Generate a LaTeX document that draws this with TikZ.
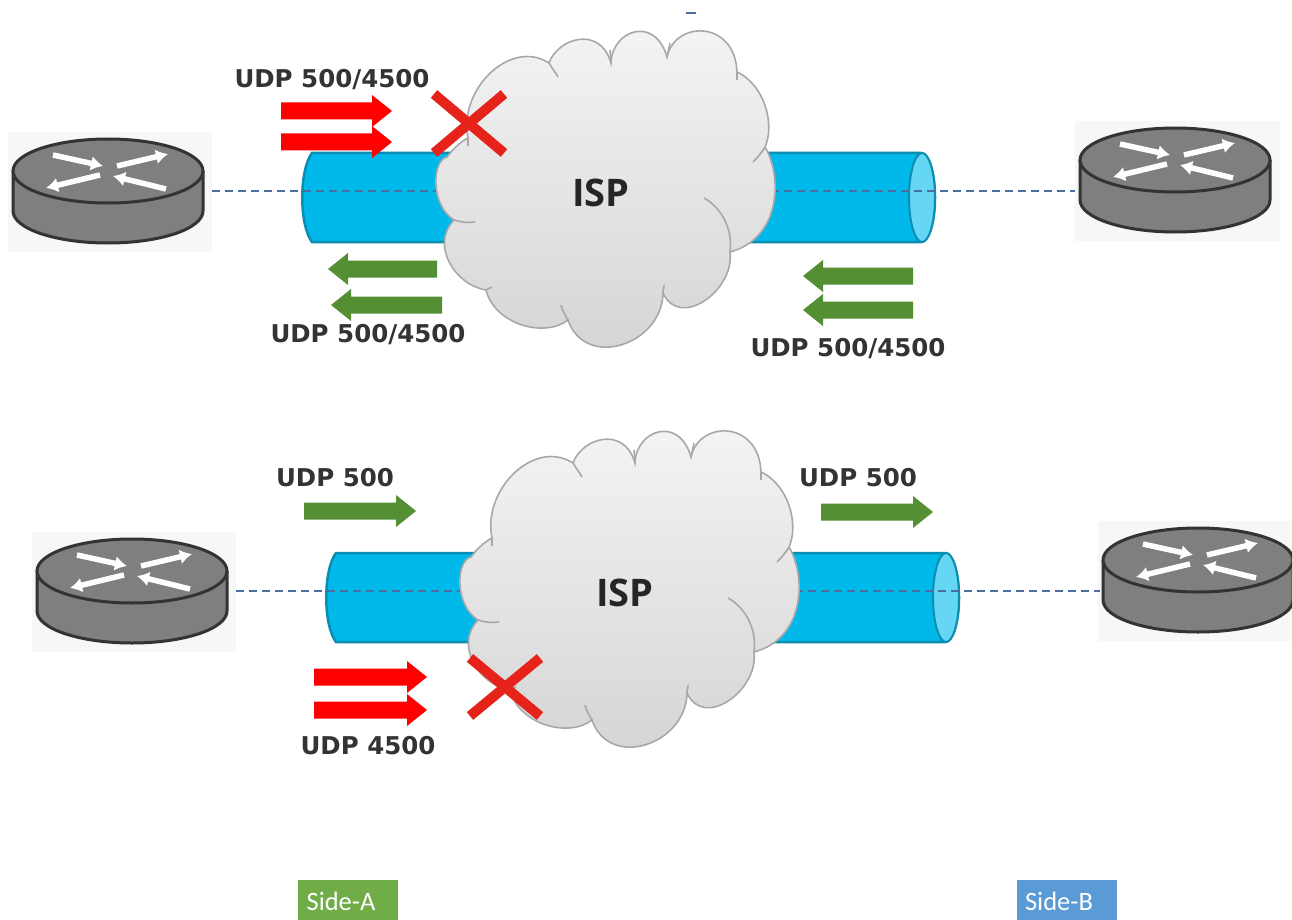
\documentclass[tikz,border=0pt]{standalone}
\usepackage{fontspec}
\setmainfont{Open Sans}
\newfontfamily\sidefont{Carlito}
\newfontfamily\lblfont{DejaVu Sans}
\usetikzlibrary{arrows.meta}
\definecolor{redar}{HTML}{FF0000}
\definecolor{greenar}{HTML}{548F33}
\definecolor{xred}{HTML}{E5231B}
\definecolor{tube}{HTML}{00B9EA}
\definecolor{tubeedge}{HTML}{0A8DB0}
\definecolor{tubeend}{HTML}{66D6F5}
\definecolor{dashc}{HTML}{4A6F9E}
\definecolor{cloudedge}{HTML}{A8A8A8}
\definecolor{routerfill}{HTML}{7F7F7F}
\definecolor{routeredge}{HTML}{333333}
\definecolor{labelc}{HTML}{333333}
\definecolor{sidea}{HTML}{70AD47}
\definecolor{sideb}{HTML}{5B9BD5}
\tikzset{
  x=1pt,y=-1pt,
  lbl/.style={font=\lblfont\fontsize{24.5}{24.5}\selectfont\bfseries,text=labelc,inner sep=0pt},
  isplbl/.style={font=\fontsize{38}{38}\selectfont\bfseries,text=black!85,inner sep=0pt},
  sidebox/.style={minimum width=100pt,minimum height=40pt,inner sep=0pt},
  sidetext/.style={text=white,inner sep=0pt,font=\sidefont\fontsize{26.5}{26.5}\selectfont},
  rarrow/.style={line width=5.5pt,white,-{Latex[length=12pt,width=15pt]}},
  dashlink/.style={line width=2pt,dashc,dash pattern=on 8pt off 5pt},
  cloudline/.style={draw=cloudedge,line width=1.6pt},
  xmark/.style={line width=10pt,xred}
}
\newcommand{\blockarrow}[4]{% tail x, tip x, y, colour
  \pgfmathsetmacro{\bdir}{(#2>#1)?1:-1}
  \fill[#4] (#1,#3-8.5) -- ({#2-\bdir*20},#3-8.5) -- ({#2-\bdir*20},#3-16) -- (#2,#3) -- ({#2-\bdir*20},#3+16) -- ({#2-\bdir*20},#3+8.5) -- (#1,#3+8.5) -- cycle;
}
\newcommand{\routerat}[4]{% x,y,name, right bg offset
  \begin{scope}[shift={(#1,#2)}]
    \fill[black!3] (-100,-39) rectangle (#4,81);
    \draw[routeredge,fill=routerfill,line width=3pt] (-95,0) -- (-95,40) arc[start angle=180,end angle=0,x radius=95,y radius=32] -- (95,0);
    \draw[routeredge,fill=routerfill,line width=3pt] (0,0) ellipse[x radius=95,y radius=32];
    \draw[rarrow] (-55,-16) -- (-5,-5);
    \draw[rarrow] (9,-5) -- (60,-17);
    \draw[rarrow] (-8,4) -- (-62,17);
    \draw[rarrow] (58,18) -- (5,5);
    \coordinate (#3) at (0,20);
  \end{scope}
}
\newcommand{\tubeat}[2]{% shift
  \begin{scope}[shift={(#1,#2)}]
    \draw[tubeedge,fill=tube,line width=2.5pt] (921,153) -- (312,153) .. controls (299,170) and (299,225) .. (312,242) -- (921,242) arc[start angle=90,end angle=-90,x radius=14,y radius=44.5] -- cycle;
    \draw[tubeedge,fill=tubeend,line width=2pt] (922,197.5) ellipse[x radius=13,y radius=44.5];
  \end{scope}
}
\newcommand{\cloudat}[2]{%
  \begin{scope}[shift={(#1,#2)}]
    \path[cloudline,top color=black!4,bottom color=black!17]
      (468,138) .. controls (458,90) and (510,38) .. (549,63)
      .. controls (558,38) and (600,25) .. (611,63)
      .. controls (612,30) and (655,15) .. (667,57)
      .. controls (675,20) and (735,20) .. (737,72)
      .. controls (765,85) and (775,125) .. (765,147)
      .. controls (782,175) and (782,238) .. (730,252)
      .. controls (735,290) and (680,330) .. (663,293)
      .. controls (662,345) and (585,370) .. (568,320)
      .. controls (545,338) and (495,325) .. (486,290)
      .. controls (455,285) and (430,245) .. (454,220)
      .. controls (430,205) and (432,160) .. (447,157)
      .. controls (452,150) and (460,142) .. (468,138) -- cycle;
    \draw[cloudline] (468,138) -- (468,146);
    \draw[cloudline] (549,63) .. controls (552,68) and (555,72) .. (558,77);
    \draw[cloudline] (611,63) -- (610,50);
    \draw[cloudline] (667,57) -- (670,43);
    \draw[cloudline] (737,72) -- (737,80);
    \draw[cloudline] (765,147) .. controls (760,155) and (757,158) .. (753,162);
    \draw[cloudline] (730,252) .. controls (733,230) and (722,208) .. (704,198);
    \draw[cloudline] (663,293) -- (664,285);
    \draw[cloudline] (568,320) .. controls (565,315) and (562,310) .. (561,305);
    \draw[cloudline] (486,290) -- (492,287);
    \draw[cloudline] (454,220) .. controls (460,222) and (468,223) .. (475,222);
  \end{scope}
}
\begin{document}
\begin{tikzpicture}
\useasboundingbox (0,0) rectangle (1292,920);
\fill[white] (0,0) rectangle (1292,920);
% small stray mark
\draw[dashc,line width=2pt] (686,13) -- (696,13);
% top scene
\routerat{108}{171}{ra}{104}
\routerat{1175}{160}{rb}{105}
\coordinate (ta) at (212,191);
\coordinate (tb) at (1075,191);
\tubeat{0}{0}
\draw[dashlink] (ta) -- (tb);
\cloudat{0}{0}
\node[isplbl] (isp1) at (601,193) {ISP};
\node[lbl] (l1) at (332,80) {UDP 500/4500};
\node[lbl] (l2) at (368,335) {UDP 500/4500};
\node[lbl] (l3) at (848,349) {UDP 500/4500};
\blockarrow{281}{392}{111}{redar}
\blockarrow{281}{392}{142}{redar}
\blockarrow{437}{328}{269}{greenar}
\blockarrow{442}{331}{305}{greenar}
\blockarrow{913}{803}{276}{greenar}
\blockarrow{913}{803}{310}{greenar}
\draw[xmark] (434,94) -- (504,153);
\draw[xmark] (504,94) -- (434,153);
% bottom scene
\routerat{132}{571}{rc}{104}
\routerat{1198}{560}{rd}{94}
\coordinate (tc) at (236,591);
\coordinate (td) at (1100,591);
\tubeat{24}{400}
\draw[dashlink] (tc) -- (td);
\cloudat{24}{400}
\node[isplbl] (isp2) at (625,593) {ISP};
\node[lbl] (l4) at (335,478) {UDP 500};
\node[lbl] (l5) at (858,478) {UDP 500};
\node[lbl] (l6) at (368,746) {UDP 4500};
\blockarrow{304}{416}{511}{greenar}
\blockarrow{821}{933}{512}{greenar}
\blockarrow{314}{427}{677}{redar}
\blockarrow{314}{427}{710}{redar}
\draw[xmark] (470,658) -- (540,716);
\draw[xmark] (540,658) -- (470,716);
% side boxes
\node[sidebox,fill=sidea] (sa) at (348,900) {};
\node[sidetext] (sat) at (341,901) {Side-A};
\node[sidebox,fill=sideb] (sb) at (1067,900) {};
\node[sidetext] (sbt) at (1059,901) {Side-B};
\end{tikzpicture}
\end{document}
